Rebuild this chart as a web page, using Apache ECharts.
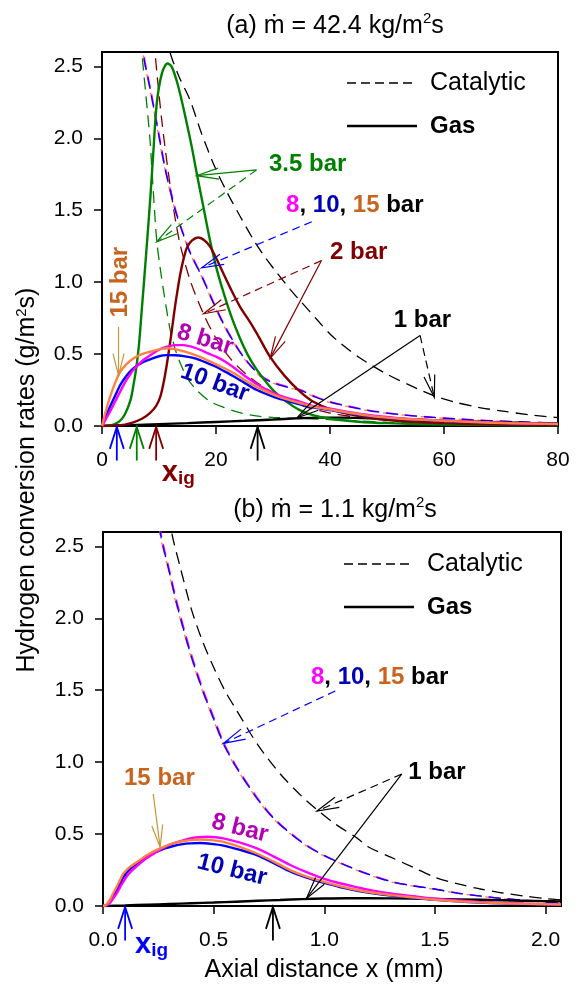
<!DOCTYPE html>
<html><head><meta charset="utf-8">
<script src="https://cdn.jsdelivr.net/npm/echarts@6/dist/echarts.min.js"></script>
<style>html,body{margin:0;padding:0;background:#fff}#c{width:579px;height:987px}</style>
</head><body><div id="c"></div>
<script>
// ---------------- tick labels ----------------
const xTicksA = [0, 20, 40, 60, 80];
const xTicksB = [0, 0.5, 1.0, 1.5, 2.0];
const yTicks = [0, 0.5, 1.0, 1.5, 2.0, 2.5];

// ---------------- panel (a): m = 42.4 kg/m2s ----------------
// catalytic (dashed)
const cat1A = [[10.3,2.85],[11.9,2.6],[13.5,2.43],[15.4,2.27],[17.5,2.03],[19.8,1.80],[22,1.62],[24.2,1.46],[26.5,1.3],[28.3,1.19],[30,1.1],[33,0.95],[35,0.86],[37.7,0.74],[40,0.64],[42,0.57],[45,0.48],[50,0.36],[55,0.265],[58.3,0.21],[62,0.165],[66,0.13],[70,0.105],[75,0.078],[80,0.058]];
const cat2A = [[8.7,2.95],[9.3,2.6],[10.5,2.12],[12,1.66],[13.5,1.3],[15.4,1.02],[17.8,0.78],[20,0.61],[22.5,0.47],[25,0.37],[28,0.28],[32,0.19],[36,0.13],[40,0.09],[45,0.06],[50,0.04],[60,0.02],[70,0.01],[80,0.006]];
const cat35A = [[6.5,2.95],[7,2.6],[7.7,2.3],[8.4,2.0],[9,1.63],[9.6,1.29],[10.2,1.1],[10.8,0.94],[11.9,0.68],[12.8,0.54],[13.7,0.44],[15,0.33],[16.6,0.25],[19,0.17],[21.3,0.13],[24,0.095],[27,0.07],[30,0.06],[35,0.052],[40,0.045],[45,0.035],[50,0.026],[60,0.015],[70,0.009],[80,0.005]];
const cat8A = [[6.7,2.95],[7.3,2.6],[8.6,2.33],[9.7,2.1],[11.1,1.8],[12.1,1.63],[13.1,1.48],[14.1,1.36],[15.6,1.2],[17.6,1.04],[19.6,0.86],[21.4,0.71],[23.1,0.59],[24.9,0.48],[26.6,0.4],[28.1,0.345],[30,0.305],[32.5,0.275],[34.7,0.255],[37.5,0.205],[40.5,0.165],[46.4,0.113],[52,0.082],[58,0.062],[65,0.044],[72,0.031],[80,0.021]];
const cat10A = [[6.6,2.95],[7.2,2.6],[8.5,2.33],[9.6,2.1],[11,1.8],[12,1.63],[13,1.48],[14,1.36],[15.5,1.2],[17.5,1.04],[19.5,0.86],[21.3,0.71],[23,0.59],[24.8,0.48],[26.5,0.4],[28,0.34],[30,0.3],[32.5,0.27],[34.7,0.25],[37.5,0.2],[40.5,0.16],[46.4,0.11],[52,0.08],[58,0.06],[65,0.042],[72,0.03],[80,0.02]];
const cat15A = [[6.55,2.95],[7.15,2.6],[8.45,2.33],[9.55,2.1],[10.95,1.8],[11.95,1.63],[12.95,1.48],[13.95,1.36],[15.45,1.2],[17.45,1.04],[19.4,0.86],[21.2,0.71],[22.9,0.59],[24.7,0.48],[26.4,0.4],[27.9,0.34],[30,0.298],[32.5,0.268],[34.7,0.248],[37.5,0.198],[40.5,0.158],[46.4,0.108],[52,0.079],[58,0.059],[65,0.041],[72,0.029],[80,0.019]];
// gas phase (solid)
const gas1A = [[0,0],[5,0.006],[10,0.013],[15,0.02],[20,0.028],[25,0.036],[30,0.045],[34,0.053],[38,0.058],[42,0.058],[46,0.055],[50,0.05],[55,0.043],[60,0.037],[65,0.031],[70,0.026],[75,0.021],[80,0.018]];
const gas2A = [[0,0],[2,0.003],[4,0.01],[5.5,0.025],[7,0.05],[8.4,0.09],[9.5,0.14],[10.2,0.2],[10.8,0.3],[11.3,0.41],[11.8,0.54],[12.2,0.65],[12.6,0.77],[13,0.88],[13.7,1.05],[14.3,1.16],[14.9,1.24],[15.8,1.29],[16.9,1.31],[18,1.29],[18.9,1.25],[20,1.17],[21.3,1.06],[22.5,0.96],[24.2,0.83],[26,0.72],[27.5,0.62],[29.5,0.48],[32,0.35],[34.7,0.24],[37,0.17],[40.5,0.11],[46.4,0.06],[52,0.035],[60,0.02],[70,0.01],[80,0.006]];
const gas35A = [[0,0],[1,0.003],[2,0.01],[3,0.03],[4,0.08],[5,0.18],[5.5,0.28],[6,0.4],[6.5,0.57],[7,0.82],[7.5,1.07],[8,1.33],[8.5,1.6],[9,1.9],[9.6,2.24],[10.5,2.45],[11.5,2.52],[12.2,2.5],[13.1,2.4],[14,2.26],[14.9,2.1],[15.8,1.93],[16.6,1.76],[17.8,1.52],[18.9,1.3],[20,1.11],[21.3,0.93],[22.7,0.76],[24.2,0.61],[25.5,0.5],[27,0.4],[28.5,0.32],[30,0.25],[32,0.18],[34.7,0.11],[37,0.075],[40,0.05],[45,0.03],[50,0.02],[60,0.01],[70,0.006],[80,0.004]];
const gas8A = [[0,0],[0.7,0.05],[1.4,0.10],[2.3,0.17],[3.2,0.24],[4.3,0.32],[5.5,0.39],[7,0.45],[8.4,0.49],[10,0.53],[11.3,0.55],[12.8,0.562],[14.3,0.562],[15.8,0.55],[17.2,0.53],[18.6,0.505],[20.1,0.48],[21.5,0.45],[23,0.41],[25,0.35],[27.2,0.29],[30,0.23],[32,0.2],[34.7,0.17],[37,0.14],[40,0.12],[46.4,0.078],[52,0.055],[58,0.042],[65,0.03],[72,0.02],[80,0.015]];
const gas10A = [[0,0],[0.7,0.07],[1.4,0.134],[2.3,0.21],[3.2,0.285],[4.3,0.35],[5.5,0.40],[7,0.44],[8.4,0.463],[10,0.485],[11.3,0.493],[12.8,0.492],[14.3,0.486],[15.8,0.475],[17.2,0.458],[18.6,0.435],[20.1,0.41],[21.5,0.38],[23,0.347],[25,0.3],[27.2,0.25],[30,0.205],[32,0.18],[34.7,0.15],[37,0.13],[40,0.11],[46.4,0.07],[52,0.05],[58,0.038],[65,0.027],[72,0.018],[80,0.013]];
const gas15A = [[0,0],[0.5,0.08],[1.4,0.20],[2.3,0.30],[3.2,0.377],[4.3,0.43],[5.5,0.47],[7,0.5],[8.4,0.516],[10,0.533],[11.6,0.54],[13.5,0.528],[15.4,0.507],[17.2,0.48],[19,0.447],[21,0.41],[23,0.37],[25,0.32],[27.2,0.27],[30,0.22],[32,0.19],[34.7,0.16],[37,0.135],[40,0.115],[46.4,0.074],[52,0.052],[58,0.04],[65,0.028],[72,0.019],[80,0.014]];
// ignition points x_ig (mm)
const xigA = [2.6, 6.1, 9.5, 27.3];

// ---------------- panel (b): m = 1.1 kg/m2s ----------------
const cat1B = [[0.29,2.85],[0.31,2.6],[0.35,2.35],[0.4,2.06],[0.45,1.84],[0.5,1.66],[0.55,1.5],[0.6,1.37],[0.7,1.12],[0.8,0.92],[0.9,0.76],[0.967,0.67],[1.05,0.57],[1.15,0.47],[1.2,0.41],[1.3,0.34],[1.4,0.27],[1.5,0.2],[1.6,0.155],[1.7,0.12],[1.8,0.092],[1.9,0.07],[2.0,0.052],[2.07,0.042]];
const cat8B = [[0.245,2.9],[0.262,2.6],[0.303,2.32],[0.337,2.1],[0.398,1.76],[0.454,1.5],[0.504,1.3],[0.548,1.13],[0.604,0.97],[0.704,0.74],[0.774,0.61],[0.854,0.5],[0.924,0.42],[1.0,0.352],[1.1,0.283],[1.19,0.228],[1.3,0.173],[1.4,0.142],[1.49,0.121],[1.6,0.091],[1.7,0.071],[1.8,0.054],[1.9,0.041],[2.0,0.029],[2.07,0.023]];
const cat10B = [[0.24,2.9],[0.258,2.6],[0.3,2.32],[0.333,2.1],[0.394,1.76],[0.45,1.5],[0.5,1.3],[0.544,1.13],[0.6,0.97],[0.7,0.74],[0.77,0.61],[0.85,0.5],[0.92,0.42],[1.0,0.35],[1.1,0.28],[1.19,0.225],[1.3,0.17],[1.4,0.14],[1.49,0.12],[1.6,0.09],[1.7,0.07],[1.8,0.053],[1.9,0.04],[2.0,0.028],[2.07,0.022]];
const cat15B = [[0.238,2.9],[0.256,2.6],[0.298,2.32],[0.331,2.1],[0.392,1.76],[0.448,1.5],[0.498,1.3],[0.542,1.13],[0.598,0.97],[0.698,0.74],[0.768,0.61],[0.848,0.5],[0.918,0.42],[1.0,0.348],[1.1,0.278],[1.19,0.223],[1.3,0.168],[1.4,0.138],[1.49,0.118],[1.6,0.089],[1.7,0.069],[1.8,0.052],[1.9,0.039],[2.0,0.027],[2.07,0.021]];
const gas1B = [[0,0],[0.1,0.004],[0.2,0.009],[0.3,0.014],[0.4,0.019],[0.5,0.024],[0.6,0.03],[0.7,0.036],[0.8,0.042],[0.9,0.048],[1.0,0.052],[1.1,0.054],[1.2,0.054],[1.4,0.051],[1.6,0.046],[1.8,0.04],[2.0,0.034],[2.07,0.032]];
const gas8B = [[0,0],[0.015,0.004],[0.03,0.02],[0.045,0.05],[0.062,0.088],[0.077,0.13],[0.092,0.17],[0.12,0.23],[0.167,0.296],[0.2,0.335],[0.243,0.377],[0.28,0.41],[0.318,0.435],[0.36,0.455],[0.394,0.47],[0.43,0.478],[0.469,0.481],[0.51,0.478],[0.544,0.47],[0.62,0.44],[0.695,0.40],[0.77,0.345],[0.846,0.285],[0.92,0.235],[0.997,0.19],[1.07,0.158],[1.15,0.13],[1.22,0.107],[1.30,0.088],[1.4,0.068],[1.49,0.052],[1.6,0.038],[1.7,0.029],[1.8,0.022],[1.9,0.017],[2.0,0.013],[2.07,0.011]];
const gas10B = [[0,0],[0.015,0.006],[0.03,0.03],[0.045,0.065],[0.062,0.11],[0.077,0.155],[0.092,0.2],[0.12,0.255],[0.167,0.31],[0.2,0.345],[0.243,0.377],[0.28,0.4],[0.318,0.417],[0.36,0.43],[0.394,0.435],[0.44,0.438],[0.49,0.432],[0.544,0.42],[0.62,0.39],[0.695,0.354],[0.77,0.3],[0.846,0.24],[0.92,0.197],[0.997,0.162],[1.07,0.132],[1.15,0.106],[1.22,0.088],[1.30,0.072],[1.4,0.057],[1.49,0.044],[1.6,0.032],[1.7,0.024],[1.8,0.018],[1.9,0.014],[2.0,0.011],[2.07,0.009]];
const gas15B = [[0,0],[0.015,0.01],[0.03,0.04],[0.045,0.085],[0.062,0.134],[0.077,0.18],[0.092,0.225],[0.12,0.27],[0.167,0.32],[0.2,0.355],[0.243,0.39],[0.28,0.415],[0.318,0.435],[0.36,0.45],[0.394,0.458],[0.44,0.462],[0.49,0.458],[0.544,0.446],[0.62,0.41],[0.695,0.365],[0.77,0.31],[0.846,0.25],[0.92,0.205],[0.997,0.169],[1.07,0.138],[1.15,0.111],[1.22,0.092],[1.30,0.076],[1.4,0.06],[1.49,0.045],[1.6,0.033],[1.7,0.025],[1.8,0.019],[1.9,0.015],[2.0,0.012],[2.07,0.01]];
const xigB = [0.1, 0.768];

// ---------------- styling ----------------
const F = '"Liberation Sans", Arial, Helvetica, sans-serif';
const C = {green:'#008000', maroon:'#800000', magenta:'#ff00ff', blue:'#0000ff', orange:'#ff8040', black:'#000000',
  lblOrange:'#c8641e', tan:'#c8963c', purple:'#b400b4', dblue:'#0000b4'};
const TICK_FS = 21, TITLE_FS = 25, LEG_FS = 25, BAR_FS = 24;

const chart = echarts.init(document.getElementById('c'), null, {renderer:'canvas'});

function mkLine(name, data, color, dashed, gi, dashOffset) {
  return {type:'line', name, data, xAxisIndex:gi, yAxisIndex:gi, showSymbol:false, symbol:'none',
    smooth:0.3, clip:true, silent:true, animation:false, z: dashed ? 2 : 3,
    lineStyle: dashed ? {color, width:1.3, type:[12,7], dashOffset:dashOffset || 0} : {color, width:2.4}};
}
function xAxisCfg(gi, max, interval, ticks, fmt) {
  return {type:'value', gridIndex:gi, min:0, max, interval,
    axisLine:{show:true, onZero:false, lineStyle:{color:'#000', width:2}},
    axisTick:{show:true, length:8, customValues:ticks, lineStyle:{color:'#000', width:1.5}},
    axisLabel:{show:true, customValues:ticks, formatter:fmt, fontSize:TICK_FS, color:'#000', fontFamily:F, margin:24},
    splitLine:{show:false}};
}
function yAxisCfg(gi) {
  return {type:'value', gridIndex:gi, min:0, max:2.6, interval:0.5,
    axisLine:{show:true, onZero:false, lineStyle:{color:'#000', width:2}},
    axisTick:{show:true, length:8, customValues:yTicks, lineStyle:{color:'#000', width:1.5}},
    axisLabel:{show:true, customValues:yTicks, formatter:v => v.toFixed(1), fontSize:TICK_FS, color:'#000', fontFamily:F, margin:19},
    splitLine:{show:false}};
}
const supRich = {s:{fontSize:15, fontFamily:F, color:'#000', verticalAlign:'top', lineHeight:15}};

chart.setOption({
  backgroundColor:'#fff',
  animation:false,
  title:[
    {text:'(a) ṁ = 42.4 kg/m{s|2}s', left:330, top:6, textAlign:'center',
     textStyle:{fontSize:TITLE_FS, fontWeight:'normal', fontFamily:F, color:'#000', lineHeight:30, rich:supRich}},
    {text:'(b) ṁ = 1.1 kg/m{s|2}s', left:330, top:490, textAlign:'center',
     textStyle:{fontSize:TITLE_FS, fontWeight:'normal', fontFamily:F, color:'#000', lineHeight:30, rich:supRich}}
  ],
  grid:[
    {left:102, top:52, width:456, height:374, show:true, borderColor:'#000', borderWidth:2, backgroundColor:'transparent'},
    {left:103, top:532, width:458, height:374, show:true, borderColor:'#000', borderWidth:2, backgroundColor:'transparent'}
  ],
  xAxis:[
    xAxisCfg(0, 80, 20, xTicksA, v => String(Math.round(v))),
    Object.assign(xAxisCfg(1, 2.07, 0.5, xTicksB, v => v.toFixed(1)),
      {name:'Axial distance x (mm)', nameLocation:'middle', nameGap:52,
       nameTextStyle:{fontSize:TITLE_FS, fontFamily:F, color:'#000', padding:[0,16,0,0]}})
  ],
  yAxis:[yAxisCfg(0), yAxisCfg(1)],
  series:[
    mkLine('Catalytic', cat1A, C.black, true, 0),
    mkLine('Catalytic', cat2A, C.maroon, true, 0),
    mkLine('Catalytic', cat35A, C.green, true, 0),
    mkLine('Catalytic', cat15A, C.orange, true, 0, 3),
    mkLine('Catalytic', cat8A, C.magenta, true, 0, 1.5),
    mkLine('Catalytic', cat10A, C.blue, true, 0, 0),
    mkLine('Gas', gas1A, C.black, false, 0),
    mkLine('Gas', gas35A, C.green, false, 0),
    mkLine('Gas', gas2A, C.maroon, false, 0),
    mkLine('Gas', gas10A, C.blue, false, 0),
    mkLine('Gas', gas8A, C.magenta, false, 0),
    mkLine('Gas', gas15A, C.orange, false, 0),
    mkLine('Catalytic', cat1B, C.black, true, 1),
    mkLine('Catalytic', cat15B, C.orange, true, 1, 3),
    mkLine('Catalytic', cat8B, C.magenta, true, 1, 1.5),
    mkLine('Catalytic', cat10B, C.blue, true, 1, 0),
    mkLine('Gas', gas1B, C.black, false, 1),
    mkLine('Gas', gas10B, C.blue, false, 1),
    mkLine('Gas', gas8B, C.magenta, false, 1),
    mkLine('Gas', gas15B, C.orange, false, 1)
  ]
});

// ---------------- annotations (data coordinates) ----------------
const arrowsA = [
  {from:[27.1,1.78], to:[16.6,1.74], color:C.green},
  {from:[27.1,1.78], to:[9.6,1.28], color:C.green, dash:true},
  {from:[36.8,1.42], to:[17.5,1.10], color:C.blue, dash:true},
  {from:[38.5,1.15], to:[29.5,0.47], color:C.maroon},
  {from:[38.5,1.15], to:[17.8,0.78], color:C.maroon, dash:true},
  {from:[55.8,0.63], to:[34.2,0.056], color:C.black},
  {from:[55.8,0.63], to:[58.3,0.2], color:C.black, dash:true},
  {from:[2.9,0.69], to:[2.9,0.35], color:C.tan}
];
const arrowsB = [
  {from:[1.05,1.495], to:[0.544,1.13], color:C.blue, dash:true},
  {from:[1.35,0.917], to:[0.967,0.66], color:C.black, dash:true},
  {from:[1.35,0.917], to:[0.92,0.053], color:C.black},
  {from:[0.227,0.78], to:[0.258,0.41], color:C.tan}
];
const xigColorsA = [C.blue, C.green, C.maroon, C.black];
const xigColorsB = [C.blue, C.black];

const bold = (fs) => ({fontSize:fs, fontWeight:'bold', fontFamily:F});
const labelsA = [
  {at:[29.3,1.82], text:'3.5 bar', fill:C.green, align:'left'},
  {at:[32.3,1.535], text:'{m|8}, {b|10}, {o|15} bar', fill:'#000', align:'left'},
  {at:[40.0,1.21], text:'2 bar', fill:C.maroon, align:'left'},
  {at:[51.2,0.736], text:'1 bar', fill:'#000', align:'left'},
  {at:[3.2,1.0], text:'15 bar', fill:C.lblOrange, align:'center', rot:90},
  {at:[18.1,0.60], text:'8 bar', fill:C.purple, align:'center', rot:-17},
  {at:[19.8,0.30], text:'10 bar', fill:C.dblue, align:'center', rot:-20}
];
const labelsB = [
  {at:[0.94,1.59], text:'{m|8}, {b|10}, {o|15} bar', fill:'#000', align:'left'},
  {at:[1.38,0.93], text:'1 bar', fill:'#000', align:'left'},
  {at:[0.095,0.89], text:'15 bar', fill:C.lblOrange, align:'left'},
  {at:[0.619,0.54], text:'8 bar', fill:C.purple, align:'center', rot:-14},
  {at:[0.583,0.25], text:'10 bar', fill:C.dblue, align:'center', rot:-14}
];

function px(gi, p) { return chart.convertToPixel({gridIndex:gi}, p); }
function arrowEls(gi, a, out, opt) {
  opt = opt || {};
  const p0 = px(gi, a.from);
  const p1 = px(gi, a.to);
  const ang = Math.atan2(p1[1]-p0[1], p1[0]-p0[0]);
  const L = opt.len || 22, W = opt.half || 5.5;
  const bx = p1[0]-L*Math.cos(ang), by = p1[1]-L*Math.sin(ang);
  const nx = -Math.sin(ang), ny = Math.cos(ang);
  const st = {stroke:a.color, lineWidth:opt.width || 1.2, fill:null, lineDash: a.dash ? [8,5] : null};
  out.push({type:'polyline', silent:true, z:10, shape:{points:[p0,p1]}, style:Object.assign({}, st)});
  out.push({type:'polyline', silent:true, z:10, shape:{points:[[bx+W*nx,by+W*ny],p1,[bx-W*nx,by-W*ny]]}, style:Object.assign({}, st, {lineDash:null})});
}
function labelEl(gi, l, fs) {
  const p = px(gi, l.at);
  return {type:'text', silent:true, z:11, x:p[0], y:p[1], rotation:(l.rot||0)*Math.PI/180,
    style:Object.assign({text:l.text, fill:l.fill, align:l.align, verticalAlign:'middle',
      rich:{m:Object.assign({fill:C.magenta}, bold(fs)), b:Object.assign({fill:C.dblue}, bold(fs)), o:Object.assign({fill:C.lblOrange}, bold(fs))}}, bold(fs))};
}

const g = [];
arrowsA.forEach(a => arrowEls(0, a, g));
arrowsB.forEach(a => arrowEls(1, a, g));
xigA.forEach((x, i) => arrowEls(0, {from:[x,-0.24], to:[x,-0.006], color:xigColorsA[i]}, g, {len:22, half:7, width:1.8}));
xigB.forEach((x, i) => arrowEls(1, {from:[x,-0.24], to:[x,-0.006], color:xigColorsB[i]}, g, {len:22, half:7, width:1.8}));
labelsA.forEach(l => g.push(labelEl(0, l, BAR_FS)));
labelsB.forEach(l => g.push(labelEl(1, l, BAR_FS)));

// x_ig labels
function xigLabel(gi, at, color) {
  const p = px(gi, at);
  return {type:'text', silent:true, z:11, x:p[0], y:p[1],
    style:{text:'{x|x}{i|ig}', fill:color, align:'left', verticalAlign:'middle', fontSize:28, fontWeight:'bold', fontFamily:F,
      rich:{x:{fontSize:29, fontWeight:'bold', fontFamily:F, fill:color, lineHeight:30},
            i:{fontSize:19, fontWeight:'bold', fontFamily:F, fill:color, verticalAlign:'bottom', lineHeight:20}}}};
}
g.push(xigLabel(0, [10.5,-0.33], C.maroon));
g.push(xigLabel(1, [0.145,-0.27], C.blue));

// legends (drawn in each panel)
function legendEls(x0, yDash, ySolid) {
  g.push({type:'line', silent:true, shape:{x1:x0, y1:yDash, x2:x0+70, y2:yDash}, style:{stroke:'#000', lineWidth:1.3, lineDash:[9,5]}});
  g.push({type:'text', silent:true, x:x0+83, y:yDash, style:{text:'Catalytic', fill:'#000', fontSize:LEG_FS, fontFamily:F, align:'left', verticalAlign:'middle'}});
  g.push({type:'line', silent:true, shape:{x1:x0, y1:ySolid, x2:x0+70, y2:ySolid}, style:{stroke:'#000', lineWidth:2.5}});
  g.push({type:'text', silent:true, x:x0+83, y:ySolid, style:{text:'Gas', fill:'#000', fontSize:LEG_FS-1, fontWeight:'bold', fontFamily:F, align:'left', verticalAlign:'middle'}});
}
legendEls(347, 83, 126);
legendEls(344, 564, 607);

// y axis title spanning both panels
g.push({type:'text', silent:true, x:27, y:480, rotation:Math.PI/2,
  style:{text:'Hydrogen conversion rates (g/m{s|2}s)', fill:'#000', fontSize:TITLE_FS, fontFamily:F, align:'center', verticalAlign:'middle',
    rich:{s:{fontSize:15, fontFamily:F, fill:'#000', verticalAlign:'top', lineHeight:15}}}});

chart.setOption({graphic:{elements:g}});
</script>
</body></html>
